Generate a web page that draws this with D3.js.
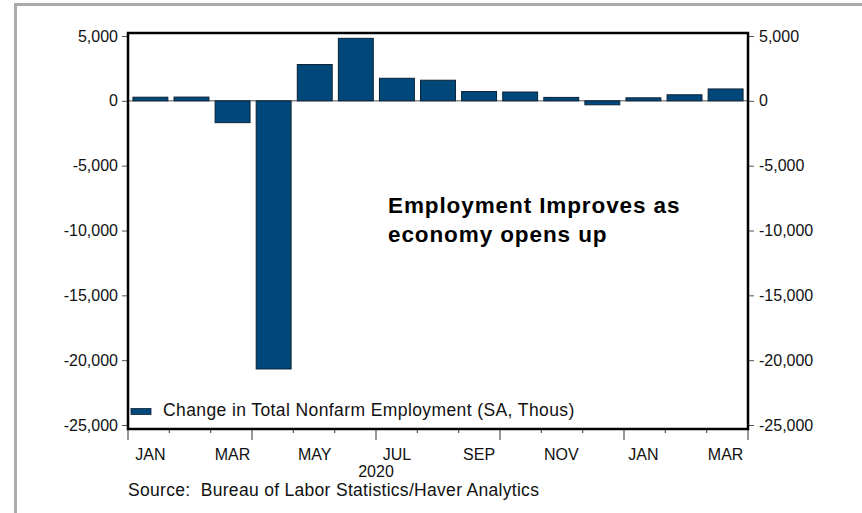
<!DOCTYPE html>
<html lang="en">
<head>
    <meta charset="UTF-8">
    <title>Nonfarm Employment</title>
    <script src="https://d3js.org/d3.v7.min.js" charset="utf-8"></script>
    <style>
        html, body {
            margin: 0;
            padding: 0;
            background: #fff;
        }
        body {
            width: 862px;
            height: 513px;
            overflow: hidden;
            font-family: 'Liberation Sans', Arial, sans-serif;
        }
        .tick text {
            font-family: 'Liberation Sans', Arial, sans-serif;
        }
    </style>
</head>
<body>
    <div id="chart"></div>
    <script>
        // monthly change in total nonfarm employment, thousands
        const months = ["2020-01", "2020-02", "2020-03", "2020-04", "2020-05", "2020-06", "2020-07", "2020-08",
                        "2020-09", "2020-10", "2020-11", "2020-12", "2021-01", "2021-02", "2021-03"];
        const changes = [280, 290, -1683, -20679, 2800, 4820, 1740, 1590, 716, 680, 264, -306, 233, 468, 916];
        const yTicks = [5000, 0, -5000, -10000, -15000, -20000, -25000];
        const monthLabels = ["JAN", "MAR", "MAY", "JUL", "SEP", "NOV", "JAN", "MAR"];
        const quarterStarts = [0, 3, 6, 9, 12, 15];

        const width = 862, height = 513;
        const plot = {left: 128, right: 748, top: 33, bottom: 429};

        let svg = d3.select("#chart")
            .append("svg")
            .attr("width", width)
            .attr("height", height);

        // grey outer frame (left + top only visible)
        svg.append("path")
            .attr("d", "M15.5,513 V4.5 H862")
            .attr("fill", "none")
            .attr("stroke", "#aaaaaa")
            .attr("stroke-width", 3);

        let y = d3.scaleLinear()
            .domain([5000, -25000])
            .range([36, 425]);

        let x = d3.scaleBand()
            .domain(months)
            .range([plot.left, plot.right])
            .paddingInner(0.15)
            .paddingOuter(0.12);

        // month boundaries for the bottom tick marks
        let xm = d3.scaleLinear()
            .domain([0, months.length])
            .range([plot.left, plot.right]);

        // zero line
        svg.append("line")
            .attr("x1", plot.left).attr("x2", plot.right)
            .attr("y1", y(0)).attr("y2", y(0))
            .attr("stroke", "#8c8c8c")
            .attr("stroke-width", 1.5);

        svg.append("g").selectAll("rect")
            .data(changes)
            .enter()
            .append("rect")
            .attr("x", (d, i) => x(months[i]))
            .attr("width", x.bandwidth())
            .attr("y", d => y(Math.max(0, d)))
            .attr("height", d => Math.abs(y(d) - y(0)))
            .attr("fill", "#00477a")
            .attr("stroke", "#0b2236")
            .attr("stroke-width", 1);

        // y axes both sides, plain hyphen for negatives
        const fmt = d => d3.format(",")(d).replace("\u2212", "-");
        let left = svg.append("g")
            .attr("transform", `translate(${plot.left},0)`)
            .call(d3.axisLeft(y).tickValues(yTicks).tickSize(6).tickPadding(4).tickFormat(fmt));
        let right = svg.append("g")
            .attr("transform", `translate(${plot.right},0)`)
            .call(d3.axisRight(y).tickValues(yTicks).tickSize(6).tickPadding(5).tickFormat(fmt));
        [left, right].forEach(a => {
            a.select(".domain").remove();
            a.selectAll(".tick line").attr("stroke", "#555");
            a.selectAll(".tick text").attr("font-size", 16).attr("fill", "#111");
        });

        // bottom month ticks: short every month, long every quarter
        let bt = svg.append("g");
        bt.selectAll("line")
            .data(d3.range(months.length + 1))
            .enter()
            .append("line")
            .attr("x1", d => xm(d)).attr("x2", d => xm(d))
            .attr("y1", plot.bottom)
            .attr("y2", d => plot.bottom + (quarterStarts.includes(d) ? 11 : 4))
            .attr("stroke", "#555")
            .attr("stroke-width", 1.2);

        bt.selectAll("text")
            .data(monthLabels)
            .enter()
            .append("text")
            .attr("x", (d, i) => x(months[i * 2]) + x.bandwidth() / 2)
            .attr("y", 460)
            .attr("text-anchor", "middle")
            .attr("font-size", 16)
            .attr("fill", "#111")
            .text(d => d);

        svg.append("text")
            .attr("x", xm(6))
            .attr("y", 477)
            .attr("text-anchor", "middle")
            .attr("font-size", 16)
            .attr("fill", "#111")
            .text("2020");

        svg.append("text")
            .attr("x", plot.left)
            .attr("y", 496)
            .attr("font-size", 17.5)
            .attr("letter-spacing", 0.3)
            .attr("fill", "#111")
            .attr("xml:space", "preserve")
            .style("white-space", "pre")
            .text("Source:  Bureau of Labor Statistics/Haver Analytics");

        // plot frame
        svg.append("rect")
            .attr("x", plot.left)
            .attr("y", plot.top)
            .attr("width", plot.right - plot.left)
            .attr("height", plot.bottom - plot.top)
            .attr("fill", "none")
            .attr("stroke", "#000")
            .attr("stroke-width", 2.5);

        // legend
        svg.append("rect")
            .attr("x", 131).attr("y", 408.5)
            .attr("width", 20).attr("height", 6)
            .attr("fill", "#00477a")
            .attr("stroke", "#0b2236")
            .attr("stroke-width", 0.8);
        svg.append("text")
            .attr("x", 163).attr("y", 416)
            .attr("font-size", 17.5)
            .attr("letter-spacing", 0.4)
            .attr("fill", "#111")
            .text("Change in Total Nonfarm Employment (SA, Thous)");

        // annotation
        let note = svg.append("text")
            .attr("font-size", 22.5)
            .attr("font-weight", "bold")
            .attr("letter-spacing", 0.9)
            .attr("fill", "#000");
        note.append("tspan").attr("x", 388).attr("y", 213).text("Employment Improves as");
        note.append("tspan").attr("x", 388).attr("y", 242).text("economy opens up");
    </script>
</body>
</html>
